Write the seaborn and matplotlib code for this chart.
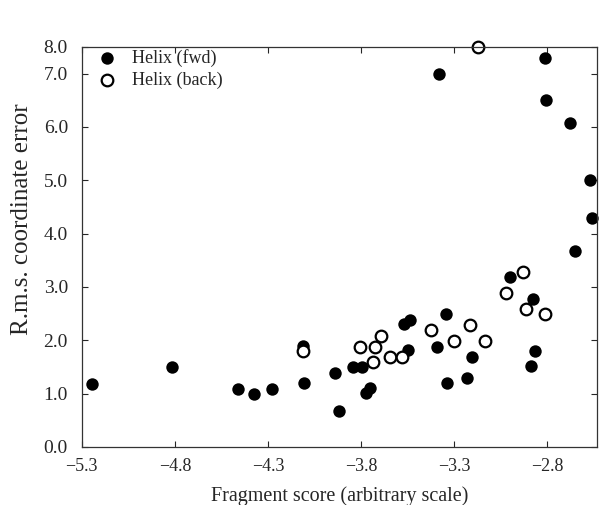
import pandas as pd
import seaborn as sns
import matplotlib.pyplot as plt

# Helix (fwd) - filled circles
fwd_score = [-5.248, -4.815, -4.463, -4.375, -4.280, -4.113, -4.106, -3.941,
             -3.918, -3.841, -3.796, -3.775, -3.752, -3.567, -3.537, -3.546,
             -3.393, -3.379, -3.345, -3.339, -3.229, -3.205, -2.999, -2.888,
             -2.875, -2.863, -2.812, -2.803, -2.678, -2.651, -2.567, -2.556]
fwd_err = [1.18, 1.50, 1.09, 0.99, 1.09, 1.89, 1.19, 1.39,
           0.68, 1.50, 1.50, 1.01, 1.10, 2.31, 2.38, 1.81,
           1.88, 7.00, 2.50, 1.19, 1.29, 1.69, 3.18, 1.51,
           2.78, 1.79, 7.30, 6.50, 6.08, 3.68, 5.00, 4.29]

# Helix (back) - open circles
back_score = [-4.113, -3.805, -3.735, -3.723, -3.694, -3.644, -3.578, -3.425,
              -3.298, -3.214, -3.173, -3.135, -3.019, -2.927, -2.915, -2.811]
back_err = [1.79, 1.88, 1.59, 1.87, 2.08, 1.68, 1.68, 2.19,
            1.99, 2.28, 7.50, 1.99, 2.88, 3.28, 2.59, 2.50]

x_ticks = [-5.3, -4.8, -4.3, -3.8, -3.3, -2.8]
y_ticks = [0, 1, 2, 3, 4, 5, 6, 7, 7.5]
y_labels = ['0.0', '1.0', '2.0', '3.0', '4.0', '5.0', '6.0', '7.0', '8.0']

df_fwd = pd.DataFrame({'score': fwd_score, 'err': fwd_err})
df_back = pd.DataFrame({'score': back_score, 'err': back_err})

sns.set_style('ticks')
plt.rcParams['font.family'] = ['Liberation Serif', 'DejaVu Serif']

fig = plt.figure(figsize=(6.02, 5.05), dpi=100)
ax = fig.add_axes([0.136, 0.115, 0.856, 0.792])

sns.scatterplot(data=df_fwd, x='score', y='err', ax=ax, s=80, color='black',
                edgecolor='black', linewidth=0, label='Helix (fwd)', clip_on=False)
sns.scatterplot(data=df_back, x='score', y='err', ax=ax, s=70, facecolor='white',
                edgecolor='black', linewidth=1.6, label='Helix (back)', clip_on=False)

ax.set_xlim(-5.3, -2.53)
ax.set_ylim(0, 7.5)
ax.set_xticks(x_ticks)
ax.set_xticklabels([('\u2212' + str(-t)) for t in x_ticks])
ax.set_yticks(y_ticks)
ax.set_yticklabels(y_labels)
ax.tick_params(direction='in', length=4, width=0.8, pad=8, top=True, right=True)
ax.tick_params(axis='x', labelsize=13)
ax.tick_params(axis='y', labelsize=14, pad=10)

for sp in ax.spines.values():
    sp.set_visible(True)
    sp.set_linewidth(0.9)
    sp.set_color('#333333')

ax.set_xlabel('Fragment score (arbitrary scale)', fontsize=14.5, labelpad=8)
ax.set_ylabel('R.m.s. coordinate error', fontsize=18)
ax.yaxis.set_label_coords(-0.095, 0.57)

ax.legend(loc='upper left', bbox_to_anchor=(0.0, 1.014), frameon=False,
          fontsize=13, handletextpad=0.35, borderaxespad=0, labelspacing=0.3)

fig.savefig('out.png', dpi=100)
